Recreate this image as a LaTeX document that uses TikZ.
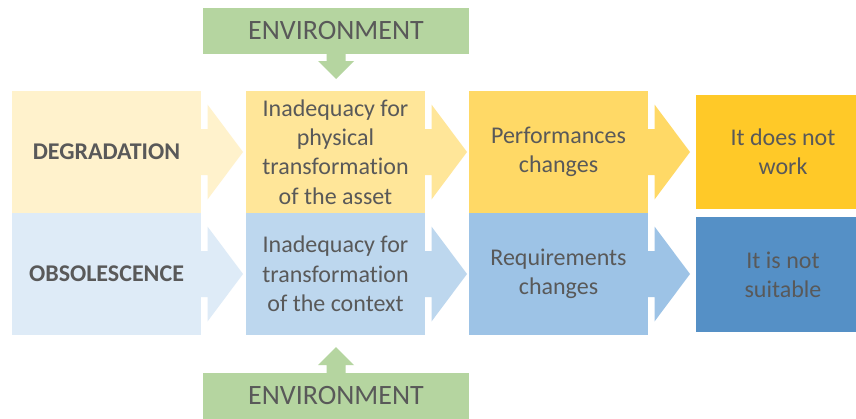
\documentclass[tikz,border=0pt]{standalone}
\usepackage{fontspec}
\setmainfont{Carlito}[Ligatures=NoCommon]

\definecolor{txtgray}{HTML}{595959}
\definecolor{yelA}{HTML}{FFF2CC}
\definecolor{yelB}{HTML}{FFE699}
\definecolor{yelC}{HTML}{FFD966}
\definecolor{yelD}{HTML}{FFC928}
\definecolor{bluA}{HTML}{DEEBF7}
\definecolor{bluB}{HTML}{BDD7EE}
\definecolor{bluC}{HTML}{9DC3E6}
\definecolor{bluD}{HTML}{5590C6}
\definecolor{envgreen}{HTML}{B5D5A0}

% block arrow leaving the east side of a box: short stem, then a wide head
\newcommand\flowarrow[2]{%
  \fill[#2] (#1) ++(0,-23) -- ++(6.5,0) -- ++(0,-24.5) -- ++(35.5,47.5)
    -- ++(-35.5,47.5) -- ++(0,-24.5) -- ++(-6.5,0) -- cycle;}

\begin{document}
\begin{tikzpicture}[x=1pt,y=-1pt,
  box/.style={inner sep=0pt, outer sep=0pt, align=center, text=txtgray,
    font=\fontsize{24}{29.3}\selectfont},
  colbox/.style={box, minimum width=179pt, minimum height=122pt},
  headbox/.style={box, minimum width=189pt, minimum height=122pt},
  endbox/.style={box, minimum width=174pt},
  envbox/.style={box, fill=envgreen, minimum width=266pt, minimum height=46pt,
    font=\fontsize{28}{34}\selectfont},
]
\clip (0,0) rectangle (856,418);
\fill[white] (0,0) rectangle (856,418);

% environment boxes
\node[envbox] (envtop) at (336,31) {ENVIRONMENT};
\node[envbox] (envbot) at (336,396) {ENVIRONMENT};

% first row: degradation
\node[headbox, fill=yelA] (deg) at (106.5,152) {\bfseries DEGRADATION};
\node[colbox, fill=yelB] (inadA) at (335.5,152)
  {Inadequacy for\\physical\\transformation\\of the asset};
\node[colbox, fill=yelC] (perf) at (558.5,152) {Performances\\changes};
\node[endbox, fill=yelD, minimum height=114pt] (nowork) at (783,152)
  {It does not\\work};

% second row: obsolescence
\node[headbox, fill=bluA] (obs) at (106.5,274) {\bfseries OBSOLESCENCE};
\node[colbox, fill=bluB] (inadB) at (335.5,274)
  {Inadequacy for\\transformation\\of the context};
\node[colbox, fill=bluC] (req) at (558.5,274) {Requirements\\changes};
\node[endbox, fill=bluD, minimum height=115pt] (nosuit) at (783,274.5)
  {It is not\\suitable};

% horizontal block arrows
\flowarrow{deg.east}{yelA}
\flowarrow{inadA.east}{yelB}
\flowarrow{perf.east}{yelC}
\flowarrow{obs.east}{bluA}
\flowarrow{inadB.east}{bluB}
\flowarrow{req.east}{bluC}

% environment arrows pointing at the middle column
\fill[envgreen] (envtop.south) ++(-9.5,0) -- ++(0,7) -- ++(-8.5,0)
  -- ++(18,18) -- ++(18,-18) -- ++(-8.5,0) -- ++(0,-7) -- cycle;
\fill[envgreen] (envbot.north) ++(-9.5,0) -- ++(0,-8) -- ++(-8.5,0)
  -- ++(18,-18) -- ++(18,18) -- ++(-8.5,0) -- ++(0,8) -- cycle;
\end{tikzpicture}
\end{document}
